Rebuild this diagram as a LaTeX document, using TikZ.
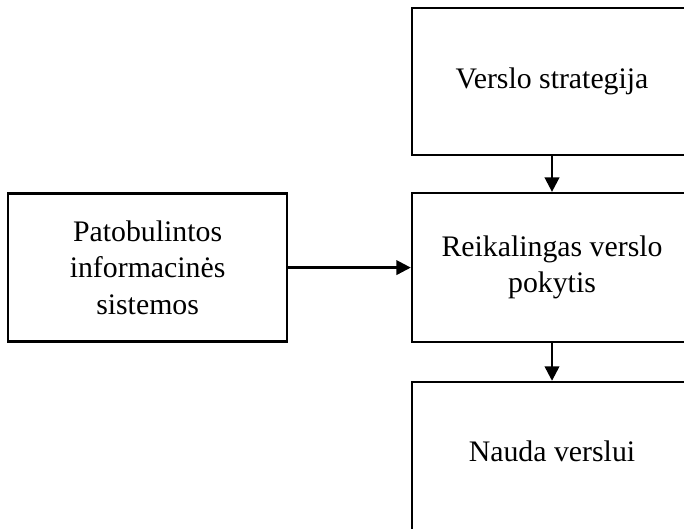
\documentclass[tikz,border=0pt]{standalone}
\usepackage{fontspec}
\setmainfont{Liberation Serif}
\usepackage{tikz}
\usetikzlibrary{arrows.meta}
\tikzstyle{block} = [draw, line width=1.7pt, minimum width=7cm, align=center,
  font=\fontsize{21.2}{26}\selectfont]
\tikzstyle{line} = [draw, line width=1.7pt, -{Triangle[length=0.36cm,width=0.36cm]}]

\begin{document}
\begin{tikzpicture}
      \useasboundingbox (0,0) rectangle (17.1,13.2);
      \clip (0,0) rectangle (17.1,13.2);

      % right column
      \node[block, minimum height=3.675cm] (strategija) at (13.8,11.16) {Verslo strategija};
      \node[block, minimum height=3.725cm] (pokytis) at (13.8,6.51) {Reikalingas verslo\\pokytis};
      \node[block, minimum height=3.8cm] (nauda) at (13.8,1.75) {\raisebox{0.36cm}{Nauda verslui}};

      % left box
      \node[block, minimum width=6.975cm, minimum height=3.7cm] (sistemos) at (3.69,6.51)
        {Patobulintos\\informacinės\\sistemos};

      % arrows
      \path[line] (strategija) -- (pokytis);
      \path[line] (pokytis) -- (nauda);
      \path[line] (sistemos) -- (pokytis);
    \end{tikzpicture}
\end{document}
